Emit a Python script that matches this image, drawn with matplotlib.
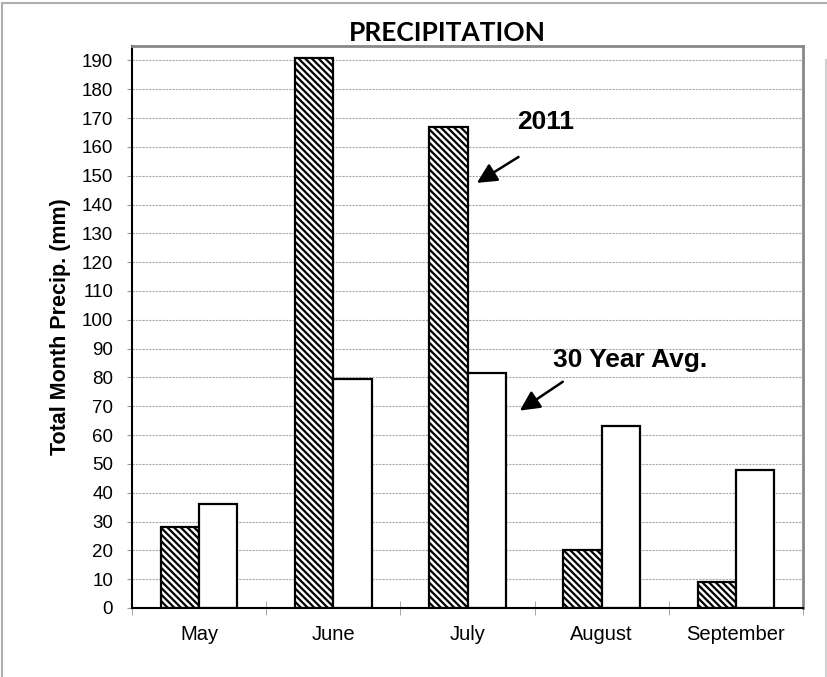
import matplotlib.pyplot as plt
import numpy as np
from matplotlib.lines import Line2D

months = ["May", "June", "July", "August", "September"]
precip_2011 = [28, 191, 167, 20, 9]
precip_30yr = [36, 79.5, 81.5, 63, 48]
y_ticks = list(range(0, 200, 10))

plt.rcParams["font.family"] = ["Liberation Sans", "DejaVu Sans"]
plt.rcParams["hatch.linewidth"] = 1.6

fig = plt.figure(figsize=(8.28, 6.77), dpi=100)
ax = fig.add_axes([132 / 828, 1 - 608 / 677, (803 - 132) / 828, (608 - 46) / 677])

x = np.arange(len(months))
w = 0.285
ax.bar(x - w / 2, precip_2011, width=w, color="white", edgecolor="black",
       hatch="\\" * 5, linewidth=1.6, zorder=3)
ax.bar(x + w / 2, precip_30yr, width=w, color="white", edgecolor="black",
       linewidth=1.6, zorder=3)

ax.set_xlim(-0.5, len(months) - 0.5)
ax.set_ylim(0, 195)
ax.set_yticks(y_ticks)
ax.tick_params(axis="y", labelsize=13.5, length=3.6, color="#999999", pad=10)
ax.set_xticks(x)
ax.set_xticklabels(months)
ax.tick_params(axis="x", which="major", length=0, labelsize=14.5, pad=12)
ax.set_xticks(np.arange(-0.5, len(months)), minor=True)
ax.tick_params(axis="x", which="minor", length=10, direction="inout", color="#999999")

ax.grid(axis="y", color="#a8a8a8", linestyle=(0, (2, 1)), linewidth=0.8, zorder=0)
ax.set_axisbelow(True)

ax.spines["left"].set_color("black")
ax.spines["left"].set_linewidth(1.5)
ax.spines["bottom"].set_color("black")
ax.spines["bottom"].set_linewidth(1.5)
ax.spines["bottom"].set_zorder(4)
for s in ["top", "right"]:
    ax.spines[s].set_color("#888888")
    ax.spines[s].set_linewidth(2)

ax.set_ylabel("Total Month Precip. (mm)", fontsize=15.5, fontweight="bold", labelpad=8)

fig.text(447 / 828, 1 - 33 / 677, "PRECIPITATION", ha="center", va="center",
         fontsize=19, fontweight="bold", family=["Lato", "DejaVu Sans"])

arrow = dict(arrowstyle="-|>", color="black", lw=1.8, mutation_scale=30,
             shrinkA=0, shrinkB=0)
ax.annotate("", xy=(2.07, 147.5), xytext=(2.38, 156.5), arrowprops=arrow)
ax.text(2.58, 168.5, "2011", ha="center", va="center", fontsize=19, fontweight="bold")
ax.annotate("", xy=(2.39, 68.5), xytext=(2.71, 78.5), arrowprops=arrow)
ax.text(3.21, 86, "30 Year Avg.", ha="center", va="center", fontsize=19, fontweight="bold")

# outer frame
fig.add_artist(Line2D([2 / 828, 2 / 828], [0, 1 - 3 / 677], color="#b0b0b0", lw=1.5))
fig.add_artist(Line2D([2 / 828, 1], [1 - 3 / 677, 1 - 3 / 677], color="#b0b0b0", lw=1.5))
fig.add_artist(Line2D([826 / 828, 826 / 828], [0, 1 - 60 / 677], color="#d0d0d0", lw=1.5))

fig.savefig("out.png", dpi=100)
